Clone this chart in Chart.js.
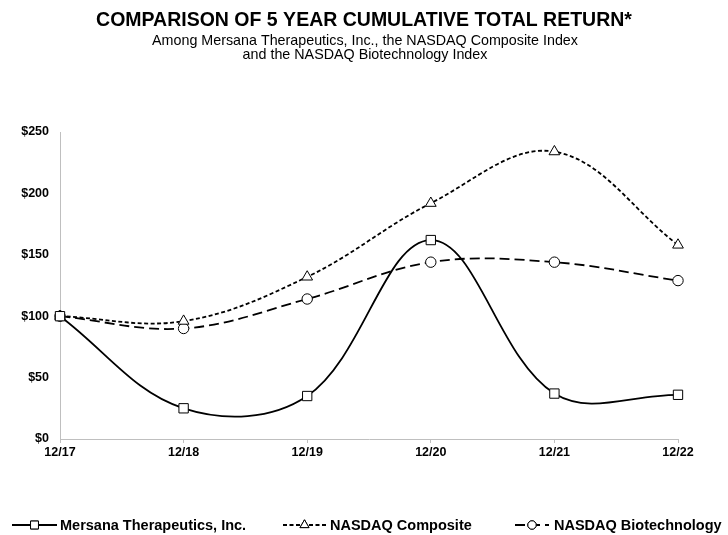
<!DOCTYPE html>
<html>
<head>
<meta charset="utf-8">
<script src="https://cdn.jsdelivr.net/npm/chart.js@4/dist/chart.umd.min.js"></script>
<style>
  html, body { margin: 0; padding: 0; background: #fff; }
  #wrap { width: 728px; height: 535px; }
</style>
</head>
<body>
<div id="wrap"><canvas id="returnChart" width="728" height="535"></canvas></div>
<script>
// values
const years = ['12/17', '12/18', '12/19', '12/20', '12/21', '12/22'];
const mersana = [100, 25, 35, 162, 37, 36];
const nasdaqComposite = [100, 96, 132, 192, 234, 158];
const nasdaqBiotech = [100, 90, 114, 144, 144, 129];
const yTicks = [0, 50, 100, 150, 200, 250];

const FONT = "'Liberation Sans', Arial, sans-serif";
const AXIS_GREY = '#bfbfbf';

// title + bottom legend with line samples, drawn by hand
const decorations = {
    id: 'decorations',
    afterDraw(chart) {
        const ctx = chart.ctx;
        const cx = chart.width / 2;
        ctx.save();
        ctx.fillStyle = '#000';
        ctx.textAlign = 'center';
        ctx.textBaseline = 'middle';
        ctx.font = 'bold 19.5px ' + FONT;
        ctx.fillText('COMPARISON OF 5 YEAR CUMULATIVE TOTAL RETURN*', cx, 21);
        ctx.font = '14.3px ' + FONT;
        ctx.fillText('Among Mersana Therapeutics, Inc., the NASDAQ Composite Index', cx + 1, 41);
        ctx.fillText('and the NASDAQ Biotechnology Index', cx + 1, 55);

        // legend items: [sample start, sample end, text x]
        const slots = [[12, 57, 60], [283, 326, 330], [515, 549, 554]];
        const ly = 525;
        chart.data.datasets.forEach((ds, i) => {
            const [x0, x1, tx] = slots[i];
            ctx.strokeStyle = '#000';
            ctx.lineWidth = ds.borderWidth;
            ctx.setLineDash(ds.borderDash || []);
            ctx.beginPath();
            ctx.moveTo(x0, ly);
            ctx.lineTo(x1, ly);
            ctx.stroke();
            ctx.setLineDash([]);
            ctx.fillStyle = '#fff';
            ctx.lineWidth = 1;
            Chart.helpers.drawPoint(ctx, {
                pointStyle: ds.pointStyle,
                radius: ds.pointRadius - 1,
                rotation: 0,
                borderWidth: 1
            }, (x0 + x1) / 2, ly);
            ctx.fill();
            ctx.stroke();
            ctx.fillStyle = '#000';
            ctx.textAlign = 'left';
            ctx.font = 'bold 14.5px ' + FONT;
            ctx.fillText(ds.label, tx, ly + 1);
        });
        ctx.restore();
    }
};

function lineSet(label, values, dash, style, radius) {
    return {
        label: label,
        data: values,
        borderColor: '#000',
        borderWidth: 1.8,
        borderDash: dash,
        tension: 0.37,
        pointStyle: style,
        pointRadius: radius,
        pointBorderWidth: 1,
        pointBorderColor: '#000',
        pointBackgroundColor: '#fff'
    };
}

new Chart(document.getElementById('returnChart'), {
    type: 'line',
    data: {
        labels: years,
        datasets: [
            lineSet('Mersana Therapeutics, Inc.', mersana, [], 'rect', 6.6),
            lineSet('NASDAQ Composite', nasdaqComposite, [4, 2.5], 'triangle', 6.2),
            lineSet('NASDAQ Biotechnology', nasdaqBiotech, [10, 5], 'circle', 5.2)
        ]
    },
    options: {
        responsive: false,
        animation: false,
        layout: {padding: {top: 132, right: 50, bottom: 0, left: 0}},
        plugins: {
            legend: {display: false},
            tooltip: {enabled: false}
        },
        scales: {
            x: {
                offset: false,
                grid: {display: true, drawOnChartArea: false, drawTicks: true, tickLength: 4, color: AXIS_GREY},
                border: {display: true, color: AXIS_GREY, width: 1},
                ticks: {color: '#000', font: {family: FONT, size: 12.5, weight: 'bold'}, padding: 2, maxRotation: 0},
                afterFit(scale) { scale.height = 96; }
            },
            y: {
                min: 0,
                max: 250,
                afterBuildTicks(scale) { scale.ticks = yTicks.map(v => ({value: v})); },
                grid: {display: false, drawTicks: false},
                border: {display: true, color: AXIS_GREY, width: 1},
                ticks: {
                    color: '#000',
                    padding: 11,
                    font: {family: FONT, size: 12.5, weight: 'bold'},
                    callback: v => '$' + v
                },
                afterFit(scale) { scale.width = 60; }
            }
        }
    },
    plugins: [decorations]
});
</script>
</body>
</html>
